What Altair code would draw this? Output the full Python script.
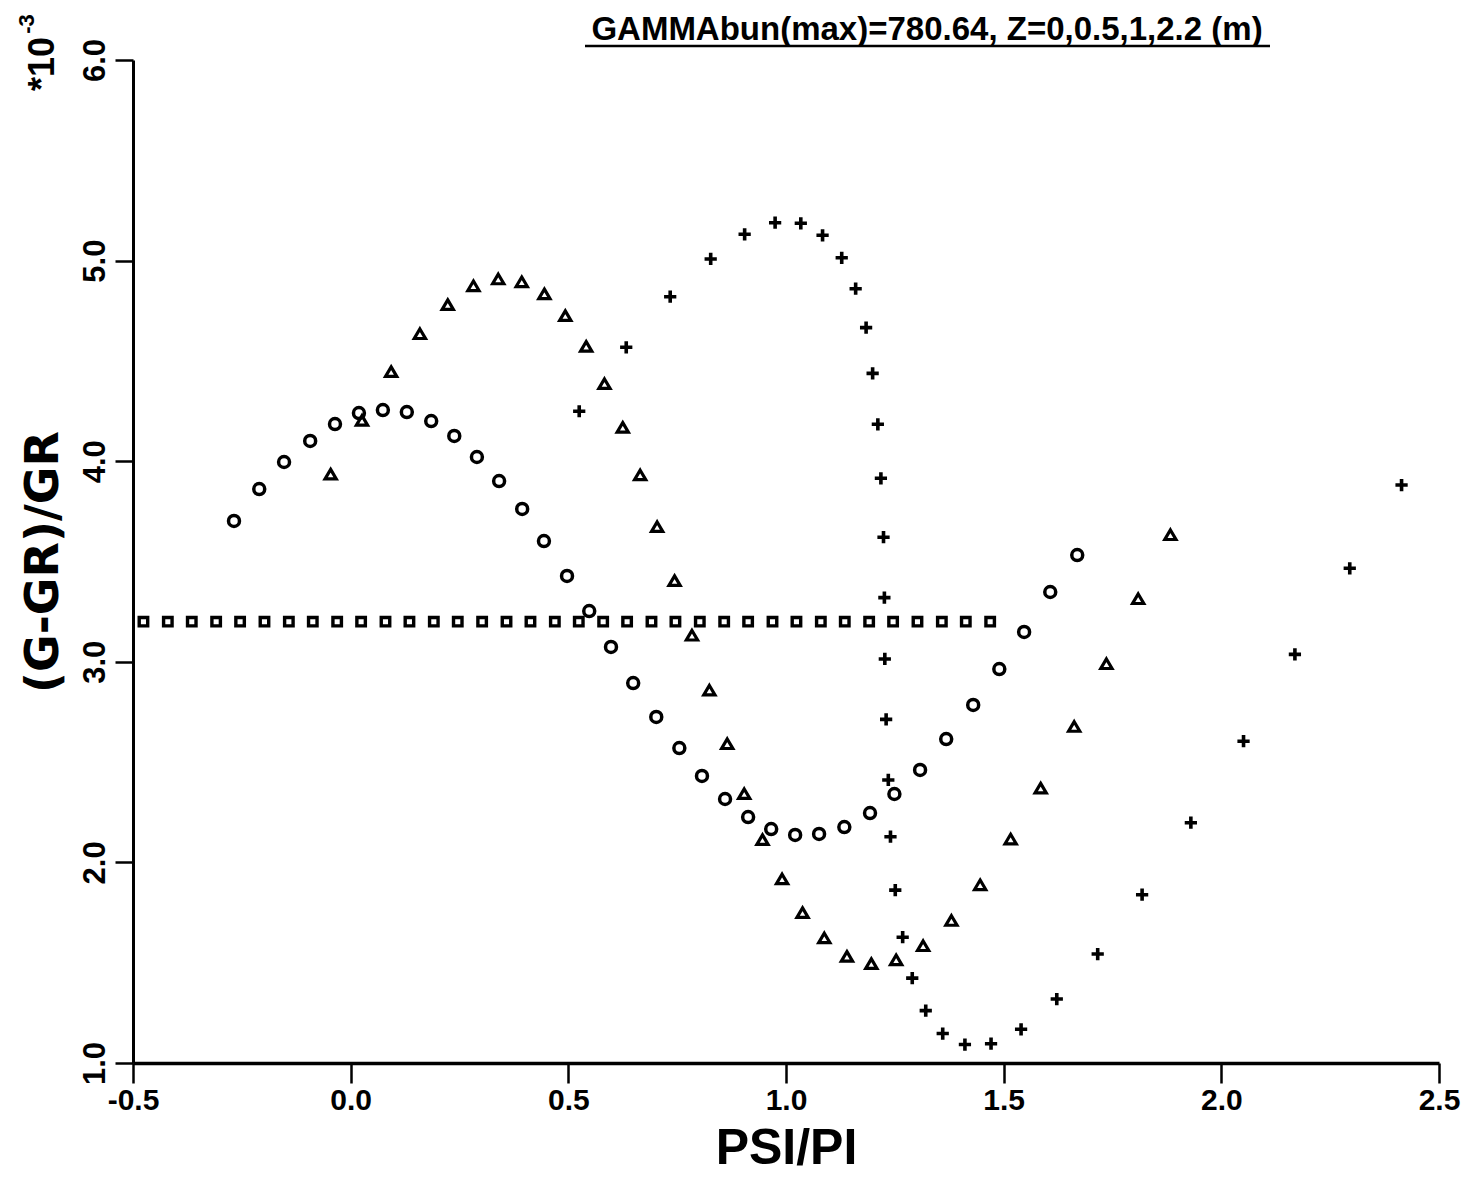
import altair as alt
import pandas as pd

# ---- data ----
sq_x = [-0.476, -0.420, -0.365, -0.309, -0.254, -0.198, -0.142, -0.087, -0.031, 0.024,
        0.080, 0.135, 0.191, 0.246, 0.302, 0.358, 0.413, 0.469, 0.524, 0.580,
        0.635, 0.691, 0.746, 0.802, 0.858, 0.913, 0.969, 1.024, 1.080, 1.135,
        1.191, 1.246, 1.302, 1.358, 1.413, 1.469]
sq_y = [3.20, 3.20, 3.20, 3.20, 3.20, 3.20, 3.20, 3.20, 3.20, 3.20,
        3.20, 3.20, 3.20, 3.20, 3.20, 3.20, 3.20, 3.20, 3.20, 3.20,
        3.20, 3.20, 3.20, 3.20, 3.20, 3.20, 3.20, 3.20, 3.20, 3.20,
        3.20, 3.20, 3.20, 3.20, 3.20, 3.20]

ci_x = [-0.268, -0.210, -0.153, -0.093, -0.036, 0.019, 0.074, 0.129, 0.185, 0.238,
        0.290, 0.341, 0.394, 0.444, 0.497, 0.548, 0.598, 0.649, 0.702, 0.755,
        0.807, 0.860, 0.913, 0.966, 1.021, 1.076, 1.134, 1.193, 1.249, 1.308,
        1.368, 1.430, 1.490, 1.547, 1.607, 1.669]
ci_y = [3.702, 3.861, 3.996, 4.101, 4.185, 4.240, 4.255, 4.245, 4.200, 4.126,
        4.021, 3.901, 3.762, 3.602, 3.428, 3.253, 3.074, 2.894, 2.725, 2.570,
        2.431, 2.316, 2.226, 2.166, 2.137, 2.142, 2.176, 2.246, 2.341, 2.461,
        2.615, 2.785, 2.964, 3.149, 3.348, 3.532]

tr_x = [-0.046, 0.026, 0.093, 0.159, 0.223, 0.282, 0.339, 0.393, 0.445, 0.493,
        0.541, 0.583, 0.625, 0.665, 0.704, 0.744, 0.784, 0.824, 0.865, 0.904,
        0.946, 0.991, 1.038, 1.088, 1.140, 1.196, 1.253, 1.315, 1.380, 1.446,
        1.516, 1.585, 1.662, 1.736, 1.809, 1.883]
tr_y = [3.934, 4.202, 4.445, 4.634, 4.779, 4.873, 4.907, 4.893, 4.833, 4.724,
        4.571, 4.385, 4.167, 3.930, 3.672, 3.403, 3.131, 2.857, 2.590, 2.341,
        2.112, 1.916, 1.748, 1.622, 1.530, 1.494, 1.513, 1.583, 1.709, 1.887,
        2.115, 2.369, 2.676, 2.989, 3.313, 3.632]

pl_x = [0.525, 0.633, 0.734, 0.827, 0.905, 0.975, 1.034, 1.084, 1.128, 1.160,
        1.184, 1.199, 1.211, 1.218, 1.224, 1.226, 1.227, 1.230, 1.235, 1.240,
        1.251, 1.268, 1.290, 1.321, 1.360, 1.411, 1.471, 1.540, 1.622, 1.716,
        1.818, 1.930, 2.051, 2.169, 2.295, 2.414]
pl_y = [4.249, 4.568, 4.820, 5.008, 5.131, 5.189, 5.186, 5.126, 5.014, 4.860,
        4.666, 4.438, 4.184, 3.915, 3.621, 3.320, 3.014, 2.713, 2.411, 2.128,
        1.862, 1.627, 1.423, 1.261, 1.147, 1.092, 1.096, 1.168, 1.319, 1.543,
        1.839, 2.198, 2.604, 3.037, 3.466, 3.881]

x_ticks = [-0.5, 0.0, 0.5, 1.0, 1.5, 2.0, 2.5]
y_ticks = [1.0, 2.0, 3.0, 4.0, 5.0, 6.0]

title_text = "GAMMAbun(max)=780.64, Z=0,0.5,1,2.2 (m)"
x_title = "PSI/PI"
y_title = "(G-GR)/GR"
exp_base = "*10"
exp_power = "-3"

FONT = "Liberation Sans, Arial, sans-serif"
FONT_WIDE = "DejaVu Sans, Liberation Sans, sans-serif"

sq = pd.DataFrame({"x": sq_x, "y": sq_y})
ci = pd.DataFrame({"x": ci_x, "y": ci_y})
tr = pd.DataFrame({"x": tr_x, "y": tr_y})
pl = pd.DataFrame({"x": pl_x, "y": pl_y})

xs = alt.Scale(domain=[-0.5, 2.5], nice=False, zero=False)
ys = alt.Scale(domain=[1.0, 6.0], nice=False, zero=False)

lbl = "datum.value < 0 ? '-' + format(-datum.value, '.1f') : format(datum.value, '.1f')"

xax = alt.Axis(values=x_ticks, labelExpr=lbl, grid=False, tickSize=20, tickWidth=2.5,
               domainWidth=3.5, domainColor="black", tickColor="black",
               labelFont=FONT, labelFontSize=30, labelFontWeight="bold", labelColor="black",
               labelPadding=2, labelFlush=False,
               title=x_title, titleFont=FONT, titleFontSize=50, titleFontWeight="bold",
               titleColor="black", titlePadding=8)
yax = alt.Axis(values=y_ticks, labelExpr=lbl, grid=False, tickSize=18, tickWidth=2.5,
               domainWidth=3, domainColor="black", tickColor="black",
               labelFont=FONT, labelFontSize=31, labelFontWeight="bold", labelColor="black",
               labelAngle=270, labelAlign="center", labelBaseline="bottom",
               labelPadding=4, labelFlush=False,
               title=y_title, titleFont=FONT_WIDE, titleFontSize=46, titleFontWeight="bold",
               titleColor="black", titlePadding=12)

def pts(df, shape, size, sw):
    return alt.Chart(df).mark_point(shape=shape, size=size, filled=False, color="black",
                                     strokeWidth=sw, opacity=1).encode(
        x=alt.X("x:Q", scale=xs, axis=xax),
        y=alt.Y("y:Q", scale=ys, axis=yax),
    )

plus_path = "M-1,0L1,0M0,-1L0,1"
tri_path = "M0,-0.9L1,0.8L-1,0.8Z"

layers = [
    pts(sq, "square", 72, 3.4),
    pts(ci, "circle", 120, 3.5),
    pts(tr, tri_path, 125, 3.2),
    pts(pl, plus_path, 150, 3.6),
]

ann = pd.DataFrame({"t": [title_text]})
title_layer = alt.Chart(ann).mark_text(font=FONT, fontSize=33, fontWeight="bold",
                                       color="black", align="center", baseline="alphabetic").encode(
    text="t:N", x=alt.value(794), y=alt.value(-20))
underline = alt.Chart(ann).mark_rule(color="black", strokeWidth=2.5).encode(
    x=alt.value(452), x2=alt.value(1137), y=alt.value(-14))

exp_df = pd.DataFrame({"a": [exp_base], "b": [exp_power]})
exp_main = alt.Chart(exp_df).mark_text(font=FONT, fontSize=36, fontWeight="bold", color="black",
                                       angle=270, align="center", baseline="middle").encode(
    text="a:N", x=alt.value(-90), y=alt.value(4))
exp_sup = alt.Chart(exp_df).mark_text(font=FONT, fontSize=22, fontWeight="bold", color="black",
                                      angle=270, align="center", baseline="middle").encode(
    text="b:N", x=alt.value(-106), y=alt.value(-36))

chart = alt.layer(*layers, title_layer, underline, exp_main, exp_sup).properties(
    width=1306, height=1003,
    background="white",
    autosize=alt.AutoSizeParams(type="none"),
    padding={"left": 125, "top": 52, "right": 30, "bottom": 112},
).configure_view(stroke="transparent", strokeWidth=0)

chart.save("out.html", embed_options={"renderer": "svg", "actions": False})
